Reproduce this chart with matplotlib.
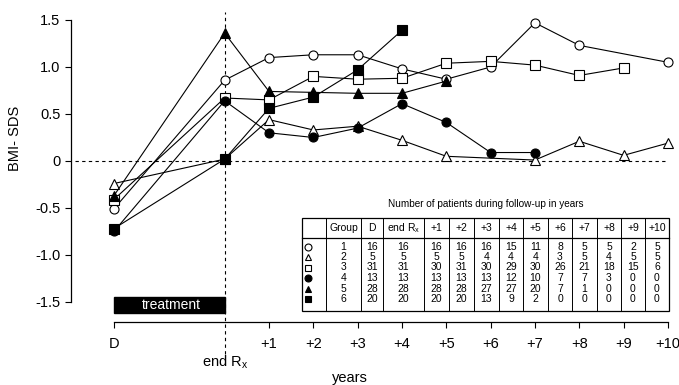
import matplotlib.pyplot as plt
from matplotlib.patches import Rectangle

plt.rcParams['font.family'] = ['Liberation Sans', 'DejaVu Sans']
plt.rcParams['mathtext.fontset'] = 'custom'
plt.rcParams['mathtext.rm'] = 'Liberation Sans'

# time points: D = diagnosis, 0 = end of treatment, then years of follow-up
x_ticks = [-2.5, 1, 2, 3, 4, 5, 6, 7, 8, 9, 10]
x_ticklabels = ['D', '+1', '+2', '+3', '+4', '+5', '+6', '+7', '+8', '+9', '+10']
y_ticks = [-1.5, -1.0, -0.5, 0, 0.5, 1.0, 1.5]
y_ticklabels = ['-1.5', '-1.0', '-0.5', '0', '0.5', '1.0', '1.5']

# BMI-SDS per group
g1_x = [-2.5, 0, 1, 2, 3, 4, 5, 6, 7, 8, 10]
g1_y = [-0.51, 0.86, 1.10, 1.13, 1.13, 0.98, 0.87, 1.00, 1.47, 1.23, 1.05]
g2_x = [-2.5, 0, 1, 2, 3, 4, 5, 7, 8, 9, 10]
g2_y = [-0.24, 0.02, 0.44, 0.33, 0.37, 0.22, 0.05, 0.01, 0.21, 0.06, 0.19]
g3_x = [-2.5, 0, 1, 2, 3, 4, 5, 6, 7, 8, 9]
g3_y = [-0.41, 0.67, 0.65, 0.90, 0.87, 0.88, 1.04, 1.06, 1.02, 0.91, 0.99]
g4_x = [-2.5, 0, 1, 2, 3, 4, 5, 6, 7]
g4_y = [-0.75, 0.64, 0.30, 0.25, 0.35, 0.61, 0.41, 0.09, 0.09]
g5_x = [-2.5, 0, 1, 2, 3, 4, 5]
g5_y = [-0.37, 1.36, 0.74, 0.73, 0.72, 0.72, 0.85]
g6_x = [-2.5, 0, 1, 2, 3, 4]
g6_y = [-0.72, 0.02, 0.56, 0.68, 0.97, 1.39]

# number of patients table
table_header = ['Group', 'D', 'end R$_\\mathrm{x}$', '+1', '+2', '+3', '+4',
                '+5', '+6', '+7', '+8', '+9', '+10']
groups = [1, 2, 3, 4, 5, 6]
n_D = [16, 5, 31, 13, 28, 20]
n_end = [16, 5, 31, 13, 28, 20]
n_1 = [16, 5, 30, 13, 28, 20]
n_2 = [16, 5, 31, 13, 28, 20]
n_3 = [16, 4, 30, 13, 27, 13]
n_4 = [15, 4, 29, 12, 27, 9]
n_5 = [11, 4, 30, 10, 20, 2]
n_6 = [8, 3, 26, 7, 7, 0]
n_7 = [5, 5, 21, 7, 1, 0]
n_8 = [5, 4, 18, 3, 0, 0]
n_9 = [2, 5, 15, 0, 0, 0]
n_10 = [5, 5, 6, 0, 0, 0]

series = [
    (g1_x, g1_y, 'o', 'white'),
    (g2_x, g2_y, '^', 'white'),
    (g3_x, g3_y, 's', 'white'),
    (g4_x, g4_y, 'o', 'black'),
    (g5_x, g5_y, '^', 'black'),
    (g6_x, g6_y, 's', 'black'),
]

fig = plt.figure(figsize=(6.79, 3.85), dpi=100)
ax = fig.add_axes([71 / 679, 63 / 385, 608 / 679, 313 / 385])
ax.set_xlim(-3.467, 10.25)
ax.set_ylim(-1.713, 1.617)

for sx, sy, m, fc in series:
    ax.plot(sx, sy, color='black', lw=0.8, marker=m, ms=6.5,
            mfc=fc, mec='black', mew=0.8, zorder=3)

# reference lines
ax.plot([-3.38, 10], [0, 0], color='black', lw=0.8, ls=(0, (3, 3)), zorder=1)
ax.plot([0, 0], [-2.05, 1.58], color='black', lw=0.8, ls=(0, (3, 3)),
        clip_on=False, zorder=1)

# treatment bar
ax.add_patch(Rectangle((-2.5, -1.62), 2.5, 0.17, color='black', zorder=2))
ax.text(-1.2, -1.535, 'treatment', color='white', fontsize=10,
        ha='center', va='center', zorder=3)

ax.spines['top'].set_visible(False)
ax.spines['right'].set_visible(False)
ax.spines['left'].set_bounds(-1.5, 1.5)
ax.spines['bottom'].set_bounds(-2.5, 10)
ax.spines['left'].set_linewidth(0.9)
ax.spines['bottom'].set_linewidth(0.9)
ax.set_xticks(x_ticks)
ax.set_xticklabels(x_ticklabels)
ax.set_yticks(y_ticks)
ax.set_yticklabels(y_ticklabels)
ax.tick_params(axis='both', length=4, width=0.8, labelsize=10.5)
ax.tick_params(axis='x', pad=7)
ax.patch.set_visible(False)

ax.text(0, -2.14, 'end R$_\\mathrm{x}$', fontsize=10.5, ha='center',
        va='center', clip_on=False)
ax.text(2.83, -2.31, 'years', fontsize=10.5, ha='center', va='center',
        clip_on=False)
fig.text(15 / 679, 1 - 138 / 385, 'BMI- SDS', rotation=90, fontsize=10.5,
         ha='center', va='center')

# table drawn in pixel coordinates
tx = fig.add_axes([0, 0, 1, 1])
tx.set_xlim(0, 679)
tx.set_ylim(385, 0)
tx.axis('off')

col_edges = [302, 326, 361, 383, 424, 449, 474, 499, 523, 548, 572, 597, 621,
             645, 669]
t_top, t_head, t_bot = 218, 238, 311
row_y = [246.5, 257, 267.5, 278, 288.5, 299]

tx.add_patch(Rectangle((col_edges[0], t_top), col_edges[-1] - col_edges[0],
                       t_bot - t_top, fill=False, lw=0.9, ec='black'))
for e in col_edges[1:-1]:
    tx.plot([e, e], [t_top, t_bot], color='black', lw=0.7)
tx.plot([col_edges[0], col_edges[-1]], [t_head, t_head], color='black', lw=0.9)

tx.text((col_edges[0] + col_edges[-1]) / 2, 204,
        'Number of patients during follow-up in years', fontsize=7.2,
        ha='center', va='center')

centers = [(col_edges[i] + col_edges[i + 1]) / 2 for i in range(len(col_edges) - 1)]
for i, h in enumerate(table_header):
    tx.text(centers[i + 1], (t_top + t_head) / 2, h, fontsize=7.5,
            ha='center', va='center')

columns = [groups, n_D, n_end, n_1, n_2, n_3, n_4, n_5, n_6, n_7, n_8, n_9, n_10]
for r, (sx, sy, m, fc) in enumerate(series):
    tx.plot([centers[0] - 6], [row_y[r]], marker=m, ms=5, mfc=fc,
            mec='black', mew=0.8, color='black')
    for c, col in enumerate(columns):
        tx.text(centers[c + 1], row_y[r], str(col[r]), fontsize=7.5,
                ha='center', va='center')

fig.savefig('out.png', dpi=100)
